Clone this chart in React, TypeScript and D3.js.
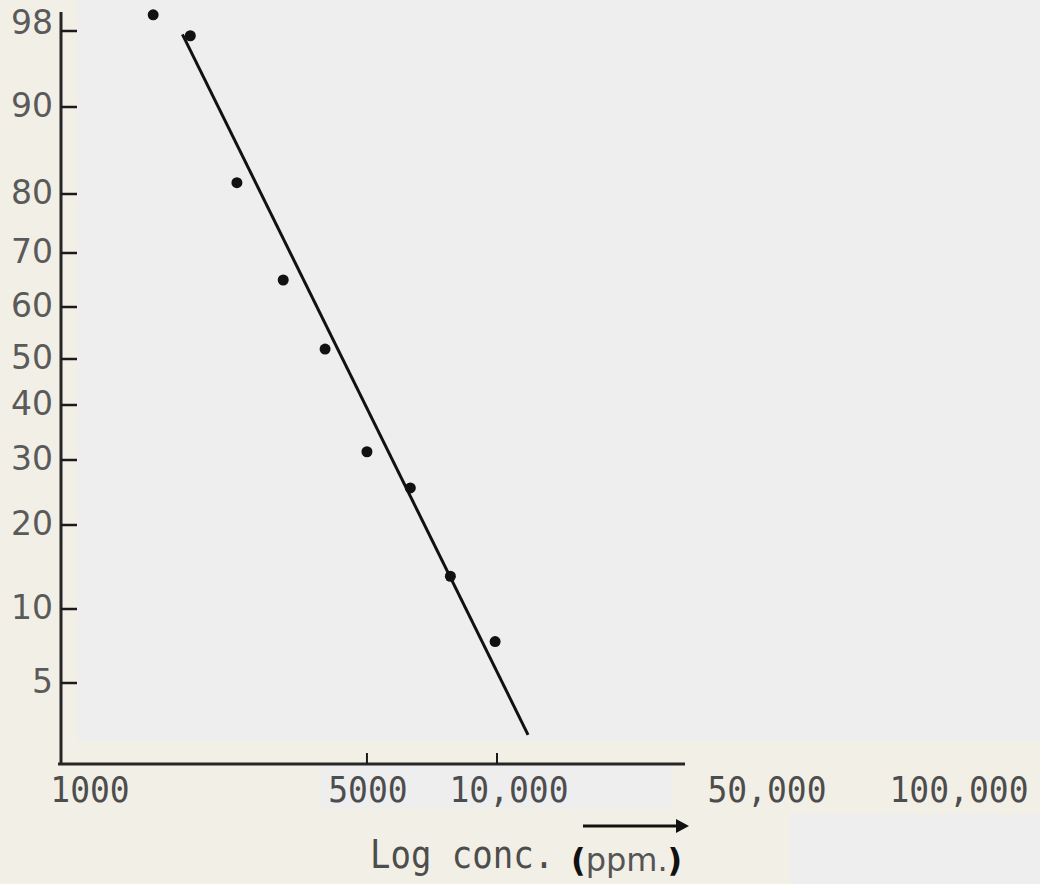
import React from 'react'
import * as d3 from 'd3'

// measured points: concentration (ppm) vs. % mortality
const concPpm = [1600, 1950, 2500, 3200, 4000, 5000, 6300, 7800, 9900]
const mortalityPct = [99.7, 97.5, 81.3, 65, 51.9, 31.5, 25.7, 13.9, 7.8]

// fitted line end points
const fitConc = [1870, 11800]
const fitPct = [97.65, 1.5]

const yTicks = [98, 90, 80, 70, 60, 50, 40, 30, 20, 10, 5]
const xTicks = [1000, 5000, 10000, 50000, 100000]
const xTickLabels = ['1000', '5000', '10,000', '50,000', '100,000']
const xTickMarks = [5000, 10000]

// probability paper spacing, as printed (top to bottom)
const probRows = [31, 107, 194, 253, 307, 359, 405, 460, 525, 609, 683]
// the printed x labels sit a little off their log positions
const xLabelNudge = [25, 1, 12, -32, 30]

const W = 1040
const H = 884
const cream = '#f2f0e6'
const grey = '#eeeeee'

const App = () => {
  const x = d3.scaleLog().domain([1000, 10000]).range([65, 497])
  const y = d3.scaleLinear().domain(yTicks).range(probRows)

  const axisX = 61
  const axisY = 764

  const fit = d3.line<number>()
    .x((d) => x(d))
    .y((d, i) => y(fitPct[i]))

  return (
    <svg width={W} height={H} style={{ position: 'absolute', left: 0, top: 0 }}>
      <rect x={0} y={0} width={W} height={H} fill={grey} />
      <rect x={0} y={0} width={77} height={H} fill={cream} />
      <rect x={0} y={742} width={790} height={H - 742} fill={cream} />
      <rect x={790} y={742} width={W - 790} height={72} fill={cream} />
      <rect x={320} y={766} width={352} height={42} fill={grey} />

      {/* y axis */}
      <line x1={axisX} x2={axisX} y1={12} y2={axisY + 1} stroke="#262626" strokeWidth={3} />
      {yTicks.map((t) => (
        <g key={t}>
          <line x1={axisX} x2={axisX + 16} y1={y(t)} y2={y(t)} stroke="#1a1a1a" strokeWidth={2.5} />
          <text
            x={53}
            y={y(t) + (t === 98 ? -9 : -2)}
            textAnchor="end"
            dominantBaseline="central"
            fontFamily="DejaVu Sans"
            fontSize={33}
            fill="#5a5a5a"
          >
            {t}
          </text>
        </g>
      ))}

      {/* x axis */}
      <line x1={58} x2={685} y1={axisY} y2={axisY} stroke="#262626" strokeWidth={3} />
      {xTickMarks.map((t) => (
        <line key={t} x1={x(t)} x2={x(t)} y1={axisY} y2={axisY - 11} stroke="#1a1a1a" strokeWidth={2} />
      ))}
      {xTicks.map((t, i) => (
        <text
          key={t}
          transform={`translate(${x(t) + xLabelNudge[i]},802) scale(1,1.1)`}
          textAnchor="middle"
          fontFamily="DejaVu Sans Mono"
          fontSize={33}
          fill="#4d4d4d"
        >
          {xTickLabels[i]}
        </text>
      ))}

      {/* axis title */}
      <line x1={583} x2={678} y1={826} y2={826} stroke="#111" strokeWidth={3} />
      <path d="M676,819 L689,826 L676,833 Z" fill="#111" />
      <text
        transform="translate(370,868) scale(1,1.15)"
        fontFamily="DejaVu Sans Mono"
        fontSize={34}
        fill="#4d4d4d"
      >
        Log conc.
      </text>
      <text x={571} y={871} fontFamily="DejaVu Sans" fontSize={32} fill="#555">
        <tspan fontWeight="bold" fill="#111">(</tspan>
        <tspan>ppm.</tspan>
        <tspan fontWeight="bold" fill="#111">)</tspan>
      </text>

      {/* fitted line */}
      <path d={fit(fitConc) || ''} fill="none" stroke="#111" strokeWidth={3} />

      {/* points */}
      {concPpm.map((c, i) => (
        <circle key={c} cx={x(c)} cy={y(mortalityPct[i])} r={5.5} fill="#111" />
      ))}
    </svg>
  )
}

export default App
